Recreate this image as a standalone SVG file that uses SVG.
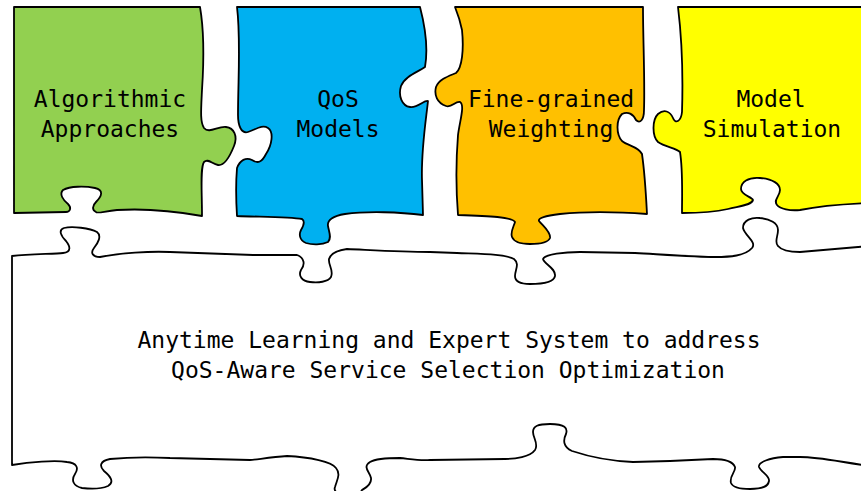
<svg xmlns="http://www.w3.org/2000/svg" width="861" height="491" viewBox="0 0 861 491">
  <style>
    .piece { stroke: #000; stroke-width: 1.8; stroke-linejoin: round; }
    .label { font-family: "DejaVu Sans Mono", "Liberation Mono", monospace; font-size: 23px; fill: #000; text-anchor: middle; }
  </style>
  <rect width="861" height="491" fill="#fff"/>

  <!-- base piece -->
  <g id="base">
    <path class="piece" fill="#fff" d="M12,256 C30,254 55,254 63,253 C72,252 70,246 66,241 C61,236 58,230 64,228 C72,226 90,228 97,232 C102,236 98,243 94,248 C90,253 93,257 100,257 C120,253 150,251 170,252 L253,255 L297,255 C305,258 305,265 301,270 C298,276 302,281 310,282 C318,283 328,282 331,277 C334,270 328,265 329,259 C331,252 340,250 347,249 C370,250 400,252 430,252 L457,253 C480,254 505,254 514,259 C520,264 515,270 515,276 C515,282 522,284 530,284 C545,284 554,282 555,276 C556,268 544,264 543,259 C545,254 565,252 580,252 L635,253 C670,255 700,257 715,257 C730,257 745,256 752,248 C757,242 745,236 743,228 C743,220 752,217 760,218 C770,219 778,223 778,230 C778,237 774,242 778,246 C782,251 790,252 800,252 L870,246 L870,466 C840,462 820,457 800,457 L783,457 C770,458 758,462 759,467 C761,472 770,476 769,481 C768,487 762,489 750,489 C740,489 733,488 731,483 C729,476 736,472 735,467 C733,462 725,459 713,459 L670,461 L633,462 C610,461 590,457 572,451 C563,447 563,440 566,434 C568,428 565,424 550,424 C538,424 533,426 533,432 C533,438 539,444 535,450 C530,457 515,459 505,459 L430,460 C420,461 410,459 400,458 C385,458 375,459 370,462 C362,467 370,472 371,478 C372,485 365,488 362,490 C360,494 355,496 350,496 C340,496 333,492 335,487 C337,480 341,474 336,468 C332,462 310,457 287,456 C270,457 255,460 250,460 L170,458 C150,457 130,457 110,459 C100,461 99,466 104,471 C110,476 115,482 108,486 C101,489 90,489 82,488 C73,486 71,480 75,474 C79,468 77,463 67,462 C55,460 30,462 12,465 Z"/>
    <text class="label" x="449" y="348">Anytime Learning and Expert System to address</text>
    <text class="label" x="448" y="378">QoS-Aware Service Selection Optimization</text>
  </g>

  <!-- top row -->
  <g id="algorithmic">
    <path class="piece" fill="#92d050" d="M14,7 L200,7 C204,30 204,60 202,90 C201,110 200,122 204,128 C209,134 218,126 226,127 C234,128 238,136 234,146 C230,156 224,166 218,165 C212,164 208,158 204,162 C200,168 202,190 202,216 C180,212 150,208 117,210 C105,211 97,214 96,212 C92,210 92,206 96,202 C102,196 104,190 95,188 C85,186 70,186 63,190 C59,194 63,200 68,204 C72,208 70,212 66,212 L14,213 Z"/>
    <text class="label" x="110" y="107">Algorithmic</text>
    <text class="label" x="110" y="137">Approaches</text>
  </g>

  <g id="qos-models">
    <path class="piece" fill="#00b0f0" d="M237,7 L420,7 C426,30 428,50 425,67 C418,72 405,76 401,86 C398,96 402,106 410,107 C418,108 424,100 428,101 C426,120 421,150 422,180 L423,215 C400,212 367,211 345,214 C333,216 327,220 328,226 C329,232 332,238 328,242 C322,245 312,245 306,243 C299,240 299,234 301,230 C304,225 305,221 302,219 C290,217 265,217 237,216 C236,200 236,180 237,168 C240,160 246,157 252,160 C258,164 262,162 266,154 C272,145 274,132 268,128 C262,124 255,130 248,132 C241,134 238,125 238,115 C238,80 241,40 237,7 Z"/>
    <text class="label" x="338" y="107">QoS</text>
    <text class="label" x="338" y="137">Models</text>
  </g>

  <g id="weighting">
    <path class="piece" fill="#ffc000" d="M455,7 L643,7 C643,40 645,80 644,110 C644,120 640,124 636,120 C633,114 628,111 622,114 C616,120 616,134 622,141 C628,146 638,146 642,154 C645,175 646,195 647,214 C620,212 590,211 560,214 C545,216 538,218 539,221 C543,226 551,232 550,238 C548,243 540,244 530,244 C520,244 514,242 512,237 C510,232 514,226 515,222 C512,217 490,216 458,215 C456,190 456,160 458,135 C460,120 465,105 460,102 C455,101 452,108 446,106 C437,103 434,95 436,87 C439,79 449,76 456,73 C462,68 464,50 462,30 C460,20 457,12 455,7 Z"/>
    <text class="label" x="551" y="107">Fine-grained</text>
    <text class="label" x="551" y="137">Weighting</text>
  </g>

  <g id="simulation">
    <path class="piece" fill="#ffff00" d="M678,7 L870,7 L870,203 C845,204 815,207 800,210 C790,211 780,209 777,205 C773,200 780,196 780,190 C780,184 773,179 760,178 C748,177 741,182 741,189 C741,195 752,197 753,200 C752,205 740,206 728,209 C715,212 700,213 682,213 C682,195 683,170 680,152 C676,148 665,147 658,142 C652,136 652,120 658,114 C664,109 670,111 673,118 C675,124 681,122 682,112 C683,80 682,40 678,7 Z"/>
    <text class="label" x="771" y="107">Model</text>
    <text class="label" x="772" y="137">Simulation</text>
  </g>
</svg>
